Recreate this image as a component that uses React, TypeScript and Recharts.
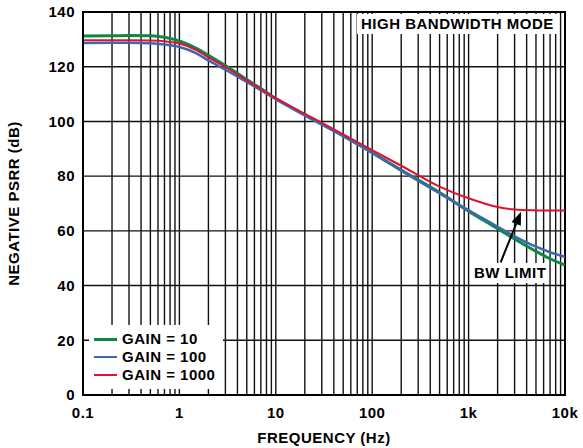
import { LineChart, Line, XAxis, YAxis, CartesianGrid, ReferenceLine, ReferenceArea, Legend } from 'recharts';

// frequency points (Hz)
const freqs = [0.1, 0.2, 0.3, 0.5, 0.7, 1, 1.5, 2, 3, 5, 7, 10, 20, 50, 100, 200, 500, 1000, 2000, 3000, 5000, 7000, 10000];
const gain10 = [131.2, 131.3, 131.4, 131.3, 130.8, 129.4, 126.7, 124.2, 120.4, 115.3, 112.0, 108.4, 102.4, 94.8, 88.6, 82.2, 74.0, 67.2, 60.8, 57.0, 52.5, 49.8, 47.5];
const gain100 = [128.7, 128.8, 128.8, 128.6, 128.1, 127.2, 124.9, 122.3, 118.9, 114.4, 111.4, 108.1, 102.2, 94.6, 88.5, 82.0, 73.7, 67.5, 61.5, 58.0, 54.2, 52.2, 50.5];
const gain1000 = [129.7, 129.7, 129.7, 129.6, 129.3, 128.5, 126.1, 123.4, 119.9, 115.0, 111.8, 108.5, 102.8, 95.3, 89.5, 83.8, 76.2, 71.9, 68.7, 67.8, 67.5, 67.4, 67.4];

const xTicks = [0.1, 1, 10, 100, 1000, 10000];
const yTicks = [0, 20, 40, 60, 80, 100, 120, 140];
const gridFreqs = [0.1, 0.2, 0.3, 0.4, 0.5, 0.6, 0.7, 0.8, 0.9, 1, 2, 3, 4, 5, 6, 7, 8, 9, 10, 20, 30, 40, 50, 60, 70, 80, 90, 100,
  200, 300, 400, 500, 600, 700, 800, 900, 1000, 2000, 3000, 4000, 5000, 6000, 7000, 8000, 9000, 10000];

// BW LIMIT arrow: tail / head in data coords
const arrowFrom = { f: 2150, v: 48.5 };
const arrowTo = { f: 3500, v: 67 };

const series = [
  { key: 'g10', name: 'GAIN = 10', color: '#0b8a46', width: 3 },
  { key: 'g100', name: 'GAIN = 100', color: '#4066b0', width: 2.5 },
  { key: 'g1000', name: 'GAIN = 1000', color: '#e3102f', width: 2 },
];

const data = freqs.map((f, i) => ({ f, g10: gain10[i], g100: gain100[i], g1000: gain1000[i] }));

const FONT = '"Liberation Sans", Arial, sans-serif';
const txt = { fontFamily: FONT, fontWeight: 700, fontSize: 15, letterSpacing: 0.5 };
const fmtX = (v: number) => (v >= 1000 ? `${v / 1000}k` : `${v}`);

function Arrow(props: any) {
  const { x1, y1, x2, y2 } = props;
  const ang = Math.atan2(y2 - y1, x2 - x1);
  const len = 13, half = 5;
  const bx = x2 - len * Math.cos(ang), by = y2 - len * Math.sin(ang);
  const px = -Math.sin(ang) * half, py = Math.cos(ang) * half;
  return (
    <g>
      <line x1={x1} y1={y1} x2={bx} y2={by} stroke="#000" strokeWidth={2} />
      <polygon points={`${x2},${y2} ${bx + px},${by + py} ${bx - px},${by - py}`} fill="#000" />
    </g>
  );
}

function LegendBox() {
  return (
    <div style={{ ...txt, background: '#fff', padding: '5px 8px 5px 5px', lineHeight: '18px', color: '#000' }}>
      {series.map((s) => (
        <div key={s.key} style={{ display: 'flex', alignItems: 'center' }}>
          <span style={{ display: 'inline-block', width: 23, height: s.width, background: s.color, marginRight: 5 }} />
          <span>{s.name}</span>
        </div>
      ))}
    </div>
  );
}

const boxText: React.CSSProperties = {
  ...txt, position: 'absolute', background: '#fff', lineHeight: '20px', padding: '0 3px', whiteSpace: 'nowrap', color: '#000',
};

export default function App() {
  return (
    <div style={{ position: 'absolute', left: 0, top: 0, width: 583, height: 448, background: '#fff' }}>
      <LineChart width={583} height={448} data={data} margin={{ top: 12, right: 18, bottom: 0, left: 0 }}>
        <CartesianGrid stroke="#111" strokeWidth={1.4} verticalValues={gridFreqs} horizontalValues={yTicks} strokeOpacity={1} />
        <XAxis
          dataKey="f"
          type="number"
          scale="log"
          domain={[0.1, 10000]}
          ticks={xTicks}
          interval={0}
          tickFormatter={fmtX}
          tickLine={false}
          axisLine={{ stroke: '#000', strokeWidth: 2 }}
          height={53}
          tickMargin={6}
          allowDataOverflow
          tick={{ fill: '#000', ...txt }}
          label={({ viewBox }: any) => (
            <text x={viewBox.x + viewBox.width / 2} y={viewBox.y + 48} textAnchor="middle" fill="#000" style={txt}>
              FREQUENCY (Hz)
            </text>
          )}
        />
        <YAxis
          type="number"
          domain={[0, 140]}
          ticks={yTicks}
          interval={0}
          tickLine={false}
          axisLine={{ stroke: '#000', strokeWidth: 2 }}
          width={83}
          tick={{ fill: '#000', ...txt }}
          label={({ viewBox }: any) => {
            const cx = 13, cy = viewBox.y + viewBox.height / 2;
            return (
              <text x={cx} y={cy} transform={`rotate(-90 ${cx} ${cy})`} textAnchor="middle" dominantBaseline="central" fill="#000" style={txt}>
                NEGATIVE PSRR (dB)
              </text>
            );
          }}
        />
        <ReferenceArea x1={0.1} x2={10000} y1={0} y2={140} fill="none" stroke="#000" strokeWidth={2} ifOverflow="visible" />
        {series.map((s) => (
          <Line key={s.key} dataKey={s.key} name={s.name} type="monotone" stroke={s.color} strokeWidth={s.width} dot={false} isAnimationActive={false} />
        ))}
        <ReferenceLine segment={[{ x: arrowFrom.f, y: arrowFrom.v }, { x: arrowTo.f, y: arrowTo.v }]} shape={Arrow} />
        <Legend layout="vertical" align="center" verticalAlign="middle" content={() => <LegendBox />}
          wrapperStyle={{ left: 89, top: 325, width: 'auto', height: 'auto' }} />
      </LineChart>
      <div style={{ ...boxText, left: 357, top: 14, padding: '0 4px' }}>HIGH BANDWIDTH MODE</div>
      <div style={{ ...boxText, left: 471, top: 263 }}>BW LIMIT</div>
    </div>
  );
}
